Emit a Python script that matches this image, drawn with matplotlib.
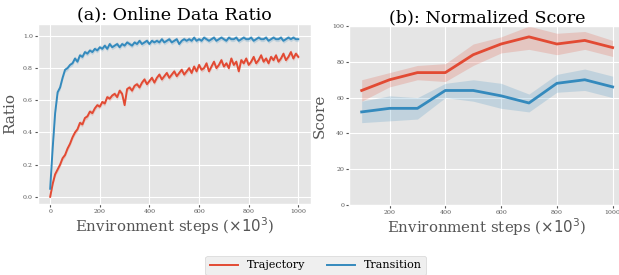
import numpy as np
import matplotlib
matplotlib.use("Agg")
import matplotlib.pyplot as plt

plt.style.use("ggplot")
plt.rcParams["font.family"] = "DejaVu Serif"

RED = "#E24A33"
BLUE = "#348ABD"

# (a) online data ratio, read every 10k steps
ratio_steps = np.arange(0, 1001, 10)
ratio_traj = [0.00, 0.08, 0.14, 0.17, 0.20, 0.24, 0.26, 0.30, 0.33, 0.37,
              0.40, 0.42, 0.46, 0.45, 0.49, 0.50, 0.53, 0.52, 0.55, 0.57,
              0.56, 0.59, 0.58, 0.62, 0.61, 0.63, 0.64, 0.62, 0.66, 0.64,
              0.57, 0.67, 0.68, 0.66, 0.69, 0.70, 0.68, 0.71, 0.73, 0.70,
              0.72, 0.74, 0.71, 0.74, 0.76, 0.73, 0.75, 0.77, 0.74, 0.76,
              0.78, 0.75, 0.77, 0.79, 0.76, 0.78, 0.80, 0.77, 0.81, 0.78,
              0.82, 0.79, 0.80, 0.83, 0.78, 0.81, 0.84, 0.80, 0.82, 0.85,
              0.81, 0.83, 0.80, 0.86, 0.82, 0.84, 0.78, 0.85, 0.83, 0.86,
              0.82, 0.84, 0.87, 0.83, 0.85, 0.88, 0.84, 0.86, 0.83, 0.87,
              0.85, 0.88, 0.84, 0.86, 0.89, 0.85, 0.87, 0.90, 0.86, 0.89,
              0.87]
ratio_trans = [0.05, 0.30, 0.52, 0.65, 0.68, 0.74, 0.79, 0.80, 0.82, 0.83,
               0.86, 0.84, 0.88, 0.87, 0.90, 0.89, 0.91, 0.90, 0.92, 0.91,
               0.93, 0.92, 0.94, 0.92, 0.95, 0.93, 0.94, 0.95, 0.93, 0.95,
               0.94, 0.96, 0.95, 0.94, 0.96, 0.95, 0.97, 0.95, 0.96, 0.97,
               0.95, 0.97, 0.96, 0.97, 0.96, 0.98, 0.96, 0.97, 0.98, 0.96,
               0.97, 0.98, 0.95, 0.97, 0.98, 0.97, 0.98, 0.97, 0.99, 0.97,
               0.98, 0.97, 0.99, 0.98, 0.97, 0.98, 0.99, 0.97, 0.98, 0.99,
               0.98, 0.97, 0.99, 0.98, 0.98, 0.99, 0.97, 0.98, 0.99, 0.98,
               0.98, 0.99, 0.97, 0.98, 0.99, 0.98, 0.98, 0.99, 0.97, 0.98,
               0.99, 0.98, 0.98, 0.99, 0.97, 0.98, 0.99, 0.98, 0.99, 0.98,
               0.98]
ratio_band = 0.015

# (b) normalized score
score_steps = [100, 200, 300, 400, 500, 600, 700, 800, 900, 1000]
score_traj = [64, 70, 74, 74, 84, 90, 94, 90, 92, 88]
score_traj_lo = [58, 66, 70, 69, 78, 85, 87, 84, 87, 83]
score_traj_hi = [70, 74, 78, 79, 90, 94, 100, 96, 97, 92]
score_trans = [52, 54, 54, 64, 64, 61, 57, 68, 70, 66]
score_trans_lo = [46, 47, 48, 60, 58, 54, 52, 63, 64, 60]
score_trans_hi = [58, 61, 60, 68, 70, 68, 62, 73, 76, 72]

fig = plt.figure(figsize=(6.19, 2.75), dpi=100)
ax1 = fig.add_axes([0.061, 0.258, 0.441, 0.655])
ax2 = fig.add_axes([0.564, 0.255, 0.446, 0.650])

tr = np.array(ratio_traj)
tn = np.array(ratio_trans)
ax1.fill_between(ratio_steps, tr - ratio_band, tr + ratio_band, color=RED, alpha=0.2, lw=0)
ax1.fill_between(ratio_steps, tn - ratio_band, tn + ratio_band, color=BLUE, alpha=0.2, lw=0)
ax1.plot(ratio_steps, tr, color=RED, lw=1.4, label="Trajectory")
ax1.plot(ratio_steps, tn, color=BLUE, lw=1.4, label="Transition")
ax1.set_xlim(-50, 1050)
ax1.set_ylim(-0.045, 1.075)
ax1.set_xticks([0, 200, 400, 600, 800, 1000])
ax1.set_yticks([0.0, 0.2, 0.4, 0.6, 0.8, 1.0])
ax1.set_title("(a): Online Data Ratio", fontsize=12.6, pad=3)
ax1.set_ylabel("Ratio", fontsize=11, color="#555555")

ax2.fill_between(score_steps, score_traj_lo, score_traj_hi, color=RED, alpha=0.2, lw=0)
ax2.fill_between(score_steps, score_trans_lo, score_trans_hi, color=BLUE, alpha=0.2, lw=0)
ax2.plot(score_steps, score_traj, color=RED, lw=2)
ax2.plot(score_steps, score_trans, color=BLUE, lw=2)
ax2.set_xlim(55, 1045)
ax2.set_ylim(0, 100)
ax2.set_xticks([200, 400, 600, 800, 1000])
ax2.set_yticks([0, 20, 40, 60, 80, 100])
ax2.set_title("(b): Normalized Score", fontsize=12.6, pad=3)
ax2.set_ylabel("Score", fontsize=11, color="#555555")

for ax in (ax1, ax2):
    ax.set_xlabel(r"Environment steps ($\times10^3$)", fontsize=10.8, color="#555555", labelpad=1)
    ax.tick_params(labelsize=4.5, length=2, pad=1.5)

h, l = ax1.get_legend_handles_labels()
leg = fig.legend(h, l, loc="lower center", bbox_to_anchor=(0.51, -0.02), ncol=2,
                 fontsize=8, frameon=True, handlelength=2.5, columnspacing=2)
leg.get_frame().set_facecolor("#EBEBEB")
leg.get_frame().set_edgecolor("#CCCCCC")

fig.savefig("out.png", dpi=100)
